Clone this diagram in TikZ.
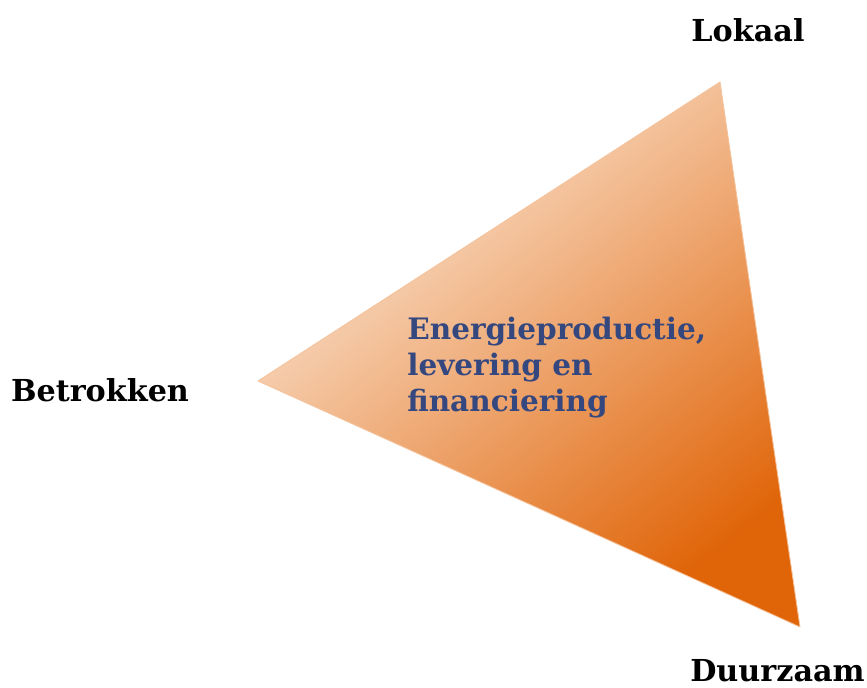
\documentclass[tikz,border=0pt]{standalone}
\usepackage{fontspec}
\setmainfont{DejaVu Serif}
\usepackage{tikz}
\definecolor{peach}{HTML}{FCEBDC}
\definecolor{midorange}{HTML}{F4C199}
\definecolor{deeporange}{HTML}{E06408}
\definecolor{slateblue}{HTML}{34477E}

\begin{document}
\begin{tikzpicture}[x=0.025cm, y=0.025cm]
    \tikzstyle{cornerlabel} = [font=\fontsize{21.5}{25}\selectfont\bfseries, text=black, inner sep=0pt]
    \tikzstyle{themetext} = [font=\fontsize{21}{25.5}\selectfont\bfseries, text=slateblue, align=left, inner sep=0pt]
    \useasboundingbox (0,0) rectangle (867,688);
    \coordinate (top) at (720,606); \coordinate (left) at (258,307);
    \coordinate (bottom) at (800,61);
    % triangle with soft edge
    \shade[top color=peach, middle color=midorange, bottom color=deeporange, shading angle=38]
        (top) -- (left) -- (bottom) -- cycle;
    \draw[deeporange!30!peach, line width=0.6pt, line join=round] (top) -- (left) -- (bottom) -- cycle;
    \node[cornerlabel] (lokaal) at (748,658) {Lokaal};
    \node[cornerlabel] (betrokken) at (100,298) {Betrokken};
    \node[cornerlabel, anchor=east] (duurzaam) at (865,17) {Duurzaam};
    \node[themetext, anchor=north west] (theme) at (407,371) {Energieproductie,\\levering en\\financiering};
\end{tikzpicture}
\end{document}
